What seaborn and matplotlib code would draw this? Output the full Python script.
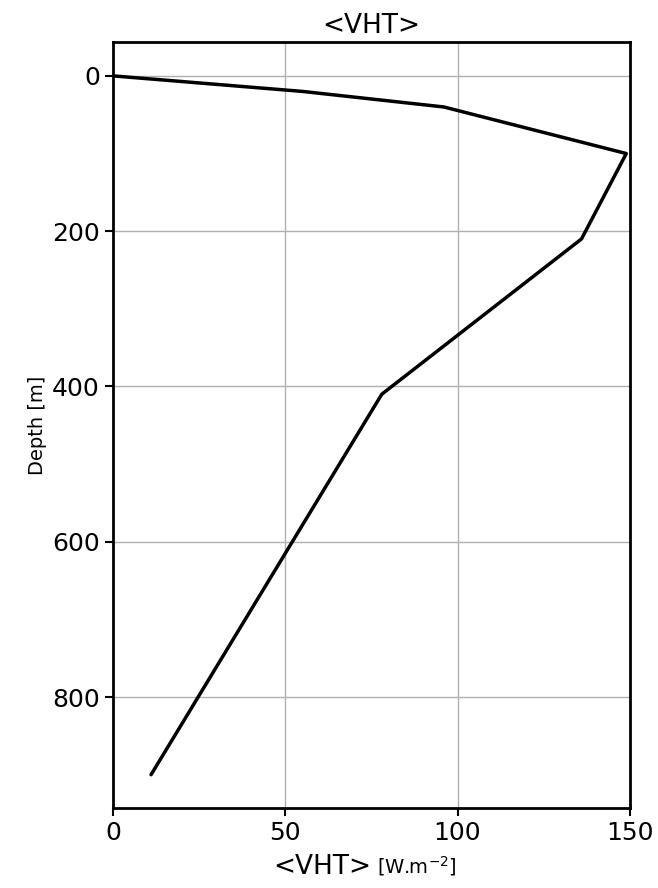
import numpy as np
import pandas as pd
import matplotlib.pyplot as plt
import seaborn as sns

# values
vht = [0, 55, 96, 149, 136, 78, 11]
depth = [0, 20, 40, 100, 210, 410, 900]

df = pd.DataFrame({"VHT": vht, "Depth": depth})

sns.set_style("white")
plt.rcParams["text.color"] = "black"
plt.rcParams["xtick.color"] = "black"
plt.rcParams["ytick.color"] = "black"
plt.rcParams["axes.labelcolor"] = "black"
fig, ax = plt.subplots(figsize=(6.58, 8.88), dpi=100)
sns.lineplot(data=df, x="VHT", y="Depth", sort=False, color="black", lw=2.5, ax=ax)

ax.set_xlim(0, 150)
ax.set_ylim(943, -44)
ax.set_xticks([0, 50, 100, 150])
ax.set_yticks([0, 200, 400, 600, 800])
ax.grid(True, color="#b0b0b0", lw=1)
ax.tick_params(labelsize=18, length=6, width=1.5, left=True, bottom=True)
for s in ax.spines.values():
    s.set_linewidth(2)
    s.set_color("black")

ax.set_title("<VHT>", fontsize=19)
ax.set_ylabel("Depth [m]", fontsize=14)
ax.set_xlabel("")
ax.text(0.5, -0.06, "<VHT>", transform=ax.transAxes, fontsize=19, ha="right", va="top")
ax.text(0.51, -0.06, r"[W.m$^{-2}$]", transform=ax.transAxes, fontsize=14, ha="left", va="top")

plt.subplots_adjust(left=0.172, right=0.957, top=0.953, bottom=0.09)
plt.savefig("out.png")
